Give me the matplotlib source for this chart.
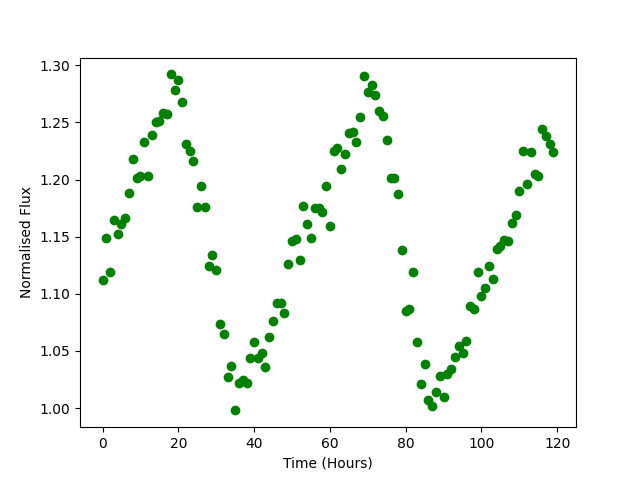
import matplotlib
matplotlib.use("Agg")
import matplotlib.pyplot as plt

hours = list(range(120))
flux = [
    1.112, 1.149, 1.119, 1.165, 1.152, 1.161, 1.166, 1.188, 1.218, 1.201,
    1.203, 1.233, 1.203, 1.239, 1.250, 1.251, 1.258, 1.257, 1.292, 1.278,
    1.287, 1.268, 1.231, 1.225, 1.216, 1.176, 1.194, 1.176, 1.124, 1.134,
    1.121, 1.074, 1.065, 1.027, 1.037, 0.998, 1.022, 1.025, 1.022, 1.044,
    1.058, 1.044, 1.048, 1.036, 1.062, 1.076, 1.092, 1.092, 1.083, 1.126,
    1.146, 1.148, 1.130, 1.177, 1.161, 1.149, 1.175, 1.175, 1.172, 1.194,
    1.159, 1.225, 1.228, 1.209, 1.222, 1.241, 1.242, 1.233, 1.255, 1.291,
    1.277, 1.283, 1.274, 1.260, 1.256, 1.235, 1.201, 1.201, 1.187, 1.138,
    1.085, 1.087, 1.119, 1.058, 1.021, 1.039, 1.007, 1.002, 1.014, 1.028,
    1.010, 1.030, 1.034, 1.045, 1.054, 1.048, 1.059, 1.089, 1.087, 1.119,
    1.098, 1.105, 1.124, 1.113, 1.139, 1.142, 1.147, 1.146, 1.162, 1.169,
    1.190, 1.225, 1.196, 1.224, 1.205, 1.203, 1.244, 1.238, 1.231, 1.224,
]

fig, ax = plt.subplots(figsize=(6.4, 4.8), dpi=100)
ax.plot(hours, flux, 'o', color='green')
ax.set_xlabel('Time (Hours)')
ax.set_ylabel('Normalised Flux')
fig.savefig('out.png')
